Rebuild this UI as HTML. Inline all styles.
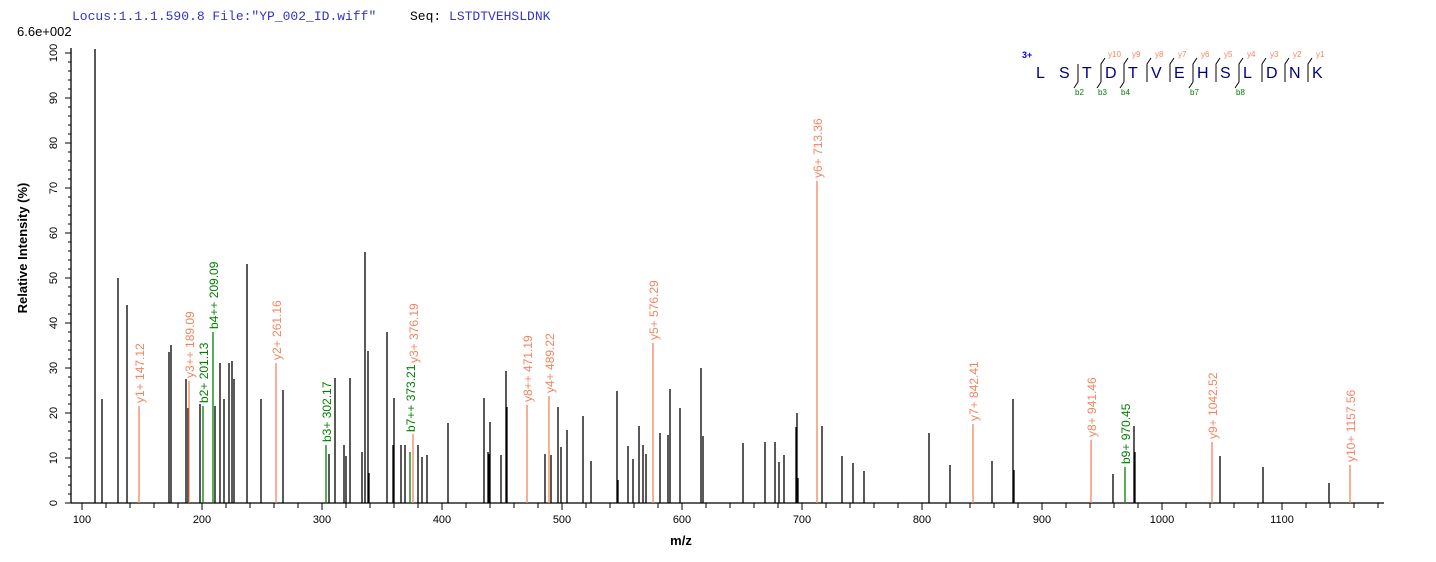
<!DOCTYPE html>
<html><head><meta charset="utf-8"><style>
html,body{margin:0;padding:0;background:#fff;}
svg{display:block;font-family:"Liberation Sans",Arial,sans-serif;}
</style></head><body>
<svg width="1436" height="562" viewBox="0 0 1436 562" xmlns="http://www.w3.org/2000/svg">
<text x="72" y="20" font-family="Liberation Mono,monospace" font-size="13" fill="#3333cc">Locus:1.1.1.590.8 File:"YP_002_ID.wiff"</text>
<text x="410" y="20" font-family="Liberation Mono,monospace" font-size="13" fill="#000">Seq: <tspan fill="#3333cc">LSTDTVEHSLDNK</tspan></text>
<text x="17" y="36" font-size="13" fill="#000">6.6e+002</text>
<g stroke="#000" stroke-width="1.3">
<line x1="71" y1="48" x2="71" y2="503"/>
<line x1="71" y1="503" x2="1384" y2="503"/>
</g>
<g stroke="#000" stroke-width="1">
<path d="M65 53H71M65 98H71M65 143H71M65 188H71M65 233H71M65 278H71M65 323H71M65 368H71M65 413H71M65 458H71M65 503H71"/>
<path d="M68 62H71M68 71H71M68 80H71M68 89H71M68 107H71M68 116H71M68 125H71M68 134H71M68 152H71M68 161H71M68 170H71M68 179H71M68 197H71M68 206H71M68 215H71M68 224H71M68 242H71M68 251H71M68 260H71M68 269H71M68 287H71M68 296H71M68 305H71M68 314H71M68 332H71M68 341H71M68 350H71M68 359H71M68 377H71M68 386H71M68 395H71M68 404H71M68 422H71M68 431H71M68 440H71M68 449H71M68 467H71M68 476H71M68 485H71M68 494H71"/>
<path d="M82 503v7M106 503v5M130 503v5M154 503v5M178 503v5M202 503v7M226 503v5M250 503v5M274 503v5M298 503v5M322 503v7M346 503v5M370 503v5M394 503v5M418 503v5M442 503v7M466 503v5M490 503v5M514 503v5M538 503v5M562 503v7M586 503v5M610 503v5M634 503v5M658 503v5M682 503v7M706 503v5M730 503v5M754 503v5M778 503v5M802 503v7M826 503v5M850 503v5M874 503v5M898 503v5M922 503v7M946 503v5M970 503v5M994 503v5M1018 503v5M1042 503v7M1066 503v5M1090 503v5M1114 503v5M1138 503v5M1162 503v7M1186 503v5M1210 503v5M1234 503v5M1258 503v5M1282 503v7M1306 503v5M1330 503v5M1354 503v5M1378 503v5"/>
</g>
<g font-size="11" fill="#000" text-anchor="middle">
<text transform="translate(57,53) rotate(-90)">100</text>
<text transform="translate(57,98) rotate(-90)">90</text>
<text transform="translate(57,143) rotate(-90)">80</text>
<text transform="translate(57,188) rotate(-90)">70</text>
<text transform="translate(57,233) rotate(-90)">60</text>
<text transform="translate(57,278) rotate(-90)">50</text>
<text transform="translate(57,323) rotate(-90)">40</text>
<text transform="translate(57,368) rotate(-90)">30</text>
<text transform="translate(57,413) rotate(-90)">20</text>
<text transform="translate(57,458) rotate(-90)">10</text>
<text transform="translate(57,503) rotate(-90)">0</text>
</g>
<g font-size="11" fill="#000" text-anchor="middle">
<text x="82" y="523">100</text><text x="202" y="523">200</text><text x="322" y="523">300</text><text x="442" y="523">400</text><text x="562" y="523">500</text><text x="682" y="523">600</text><text x="802" y="523">700</text><text x="922" y="523">800</text><text x="1042" y="523">900</text><text x="1162" y="523">1000</text><text x="1282" y="523">1100</text>
</g>
<text transform="translate(27,248) rotate(-90)" font-size="13" font-weight="bold" text-anchor="middle">Relative   Intensity (%)</text>
<text x="681" y="545" font-size="13" font-weight="bold" text-anchor="middle">m/z</text>
<g stroke="#000" stroke-width="1.3">
<path d="M95 503V49M102 503V399M118 503V278M127 503V305M169 503V352M171 503V345M186 503V379M188 503V408M200 503V404M215 503V406M220 503V363M224 503V399M229 503V363M232 503V361M234 503V379M247 503V264M261 503V399M283 503V390M329 503V454M335 503V378M344 503V445M346 503V456M350 503V378M362 503V452M365 503V252M368 503V351M369 503V473M387 503V332M393 503V445M394 503V398M401 503V445M405 503V445M418 503V445M422 503V457M427 503V455M448 503V423M484 503V398M488 503V452M489 503V454M490 503V422M501 503V455M506 503V371M507 503V407M545 503V454M551 503V455M558 503V407M561 503V447M567 503V430M583 503V416M591 503V461M617 503V391M618 503V480M628 503V446M633 503V459M639 503V426M643 503V445M646 503V454M660 503V433M668 503V435M670 503V389M680 503V408M701 503V368M703 503V436M743 503V443M765 503V442M775 503V442M779 503V462M784 503V455M796 503V427M797 503V413M798 503V478M822 503V426M842 503V456M853 503V463M864 503V471M929 503V433M950 503V465M992 503V461M1013 503V399M1014 503V470M1113 503V474M1134 503V426M1135 503V452M1220 503V456M1263 503V467M1329 503V483"/>
</g>
<g stroke="#f4845f" stroke-width="1.3">
<path d="M139 503V406M189 503V381M276 503V363M413 503V434M527 503V405M549 503V396M653 503V343M817 503V181M973 503V424M1091 503V440M1212 503V442M1350 503V465"/>
</g>
<g stroke="#008000" stroke-width="1.3">
<path d="M203 503V406M213 503V332M326 503V445M410 503V452M1125 503V467"/>
</g>
<g font-size="12" fill="#f4845f">
<text transform="translate(144,403) rotate(-90)">y1+ 147.12</text>
<text transform="translate(194,378) rotate(-90)">y3++ 189.09</text>
<text transform="translate(281,360) rotate(-90)">y2+ 261.16</text>
<text transform="translate(418,363) rotate(-90)">y3+ 376.19</text>
<text transform="translate(532,402) rotate(-90)">y8++ 471.19</text>
<text transform="translate(554,393) rotate(-90)">y4+ 489.22</text>
<text transform="translate(658,340) rotate(-90)">y5+ 576.29</text>
<text transform="translate(822,178) rotate(-90)">y6+ 713.36</text>
<text transform="translate(978,421) rotate(-90)">y7+ 842.41</text>
<text transform="translate(1096,437) rotate(-90)">y8+ 941.46</text>
<text transform="translate(1217,439) rotate(-90)">y9+ 1042.52</text>
<text transform="translate(1355,462) rotate(-90)">y10+ 1157.56</text>
</g>
<g font-size="12" fill="#008000">
<text transform="translate(208,403) rotate(-90)">b2+ 201.13</text>
<text transform="translate(218,329) rotate(-90)">b4++ 209.09</text>
<text transform="translate(331,442) rotate(-90)">b3+ 302.17</text>
<text transform="translate(415,432) rotate(-90)">b7++ 373.21</text>
<text transform="translate(1130,464) rotate(-90)">b9+ 970.45</text>
</g>
<text x="1022" y="58" font-size="9" font-weight="bold" fill="#0000ff">3+</text>
<g font-size="16" fill="#000080">
<text x="1036" y="78">L</text><text x="1059" y="78">S</text><text x="1082" y="78">T</text><text x="1105" y="78">D</text><text x="1128" y="78">T</text><text x="1151" y="78">V</text><text x="1174" y="78">E</text><text x="1197" y="78">H</text><text x="1220" y="78">S</text><text x="1243" y="78">L</text><text x="1266" y="78">D</text><text x="1289" y="78">N</text><text x="1312" y="78">K</text>
</g>
<g stroke="#000" stroke-width="1" fill="none">
<path d="M1078 82V64M1078 82l-4 6"/>
<path d="M1101 82V64l4-6M1101 82l-4 6"/>
<path d="M1124 82V64l4-6M1124 82l-4 6"/>
<path d="M1147 82V64l4-6"/>
<path d="M1170 82V64l4-6"/>
<path d="M1193 82V64l4-6M1193 82l-4 6"/>
<path d="M1216 82V64l4-6"/>
<path d="M1239 82V64l4-6M1239 82l-4 6"/>
<path d="M1262 82V64l4-6"/>
<path d="M1285 82V64l4-6"/>
<path d="M1308 82V64l4-6"/>
</g>
<g font-size="8" fill="#f4845f">
<text x="1108" y="57">y10</text><text x="1132" y="57">y9</text><text x="1155" y="57">y8</text><text x="1178" y="57">y7</text><text x="1201" y="57">y6</text><text x="1224" y="57">y5</text><text x="1247" y="57">y4</text><text x="1270" y="57">y3</text><text x="1293" y="57">y2</text><text x="1316" y="57">y1</text>
</g>
<g font-size="8" fill="#008000">
<text x="1075" y="95">b2</text><text x="1098" y="95">b3</text><text x="1121" y="95">b4</text><text x="1190" y="95">b7</text><text x="1236" y="95">b8</text>
</g>
</svg>
</body></html>
